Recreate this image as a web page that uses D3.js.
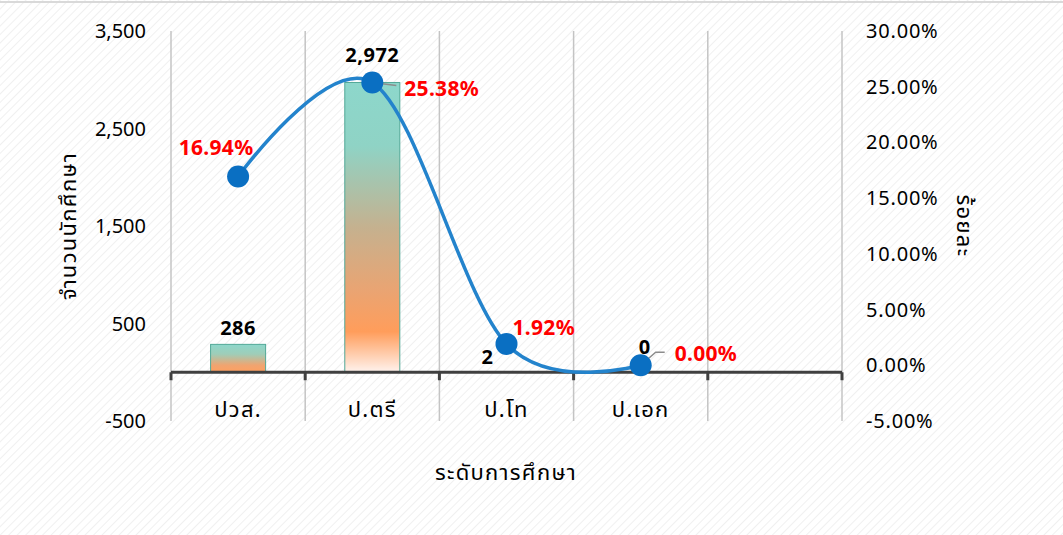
<!DOCTYPE html>
<html>
<head>
<meta charset="utf-8">
<script src="https://cdn.jsdelivr.net/npm/d3@7"></script>
<style>
  body { margin: 0; background: #fff; }
  text { font-family: "Noto Sans", "Noto Sans Thai", sans-serif; }
  .thai { letter-spacing: 1.3px; }
</style>
</head>
<body>
<div id="chart"></div>
<script>
const categories = ["ปวส.", "ป.ตรี", "ป.โท", "ป.เอก", ""];
const students = [286, 2972, 2, 0];
const percents = [16.94, 25.38, 1.92, 0.00];
const studentLabels = ["286", "2,972", "2", "0"];
const leftTicks = [-500, 500, 1500, 2500, 3500];
const rightTicks = [-5, 0, 5, 10, 15, 20, 25, 30];

const width = 1063, height = 535;

const x = d3.scaleBand().domain(categories).range([171, 842]).paddingInner(0);
const yL = d3.scaleLinear().domain([-500, 3500]).range([421, 31]);
const yR = d3.scaleLinear().domain([-5, 30]).range([421, 31]);
const barW = x.bandwidth() * 0.41;
const cx = c => x(c) + x.bandwidth() / 2;

const svg = d3.select("#chart").append("svg")
  .attr("width", width)
  .attr("height", height)
  .attr("viewBox", [0, 0, width, height]);

const defs = svg.append("defs");

const pat = defs.append("pattern")
  .attr("id", "hatch")
  .attr("patternUnits", "userSpaceOnUse")
  .attr("width", 6).attr("height", 6)
  .attr("patternTransform", "rotate(45)");
pat.append("rect").attr("width", 6).attr("height", 6).attr("fill", "#fff");
pat.append("line")
  .attr("x1", 0).attr("y1", 0).attr("x2", 0).attr("y2", 6)
  .attr("stroke", "#f0f0f0").attr("stroke-width", 2);

const grad = defs.append("linearGradient")
  .attr("id", "barGrad")
  .attr("x1", 0).attr("y1", 0).attr("x2", 0).attr("y2", 1);
[[0, "#8dd7cb"], [0.22, "#8fd3c5"], [0.5, "#c5b18f"], [0.72, "#eaa472"], [0.86, "#ff9d5b"], [1, "#fff3ee"]]
  .forEach(([o, c]) => grad.append("stop").attr("offset", o).attr("stop-color", c));

const gradSmall = defs.append("linearGradient")
  .attr("id", "barGradSmall")
  .attr("x1", 0).attr("y1", 0).attr("x2", 0).attr("y2", 1);
[[0, "#8dd7cb"], [0.35, "#9fcdb8"], [0.75, "#f0a470"], [1, "#ffa060"]]
  .forEach(([o, c]) => gradSmall.append("stop").attr("offset", o).attr("stop-color", c));

svg.append("rect")
  .attr("width", width).attr("height", height)
  .attr("fill", "url(#hatch)");
svg.append("line")
  .attr("x1", 0).attr("x2", width).attr("y1", 2).attr("y2", 2)
  .attr("stroke", "#d9d9d9").attr("stroke-width", 2);

// vertical gridlines at category boundaries
const bounds = categories.map(c => x(c)).concat([x.range()[1]]);
svg.append("g")
  .selectAll("line")
  .data(bounds)
  .join("line")
    .attr("x1", d => d).attr("x2", d => d)
    .attr("y1", yL(3500)).attr("y2", yL(-500))
    .attr("stroke", "#c4c4c4").attr("stroke-width", 1.5);

// bars
svg.append("g")
  .selectAll("rect")
  .data(students)
  .join("rect")
    .attr("x", (d, i) => cx(categories[i]) - barW / 2)
    .attr("y", d => yL(d))
    .attr("width", barW)
    .attr("height", d => yL(0) - yL(d))
    .attr("fill", (d, i) => i === 0 ? "url(#barGradSmall)" : "url(#barGrad)")
    .attr("stroke", "#52a897")
    .attr("stroke-width", d => d > 10 ? 1 : 0);

// category axis line and ticks
svg.append("line")
  .attr("x1", x.range()[0]).attr("x2", x.range()[1])
  .attr("y1", yL(0)).attr("y2", yL(0))
  .attr("stroke", "#404040").attr("stroke-width", 3);
svg.append("g")
  .selectAll("line")
  .data(bounds)
  .join("line")
    .attr("x1", d => d).attr("x2", d => d)
    .attr("y1", yL(0)).attr("y2", yL(0) + 8)
    .attr("stroke", "#404040").attr("stroke-width", 3);

// left axis labels
svg.append("g")
  .selectAll("text")
  .data(leftTicks)
  .join("text")
    .attr("x", 146)
    .attr("y", d => yL(d))
    .attr("dy", "0.35em")
    .attr("text-anchor", "end")
    .attr("font-size", 20)
    .text(d => d3.format(",")(d).replace("−", "-"));

// right axis labels
svg.append("g")
  .selectAll("text")
  .data(rightTicks)
  .join("text")
    .attr("x", 866)
    .attr("y", d => yR(d))
    .attr("dy", "0.35em")
    .attr("font-size", 20)
    .attr("letter-spacing", 0.8)
    .text(d => d.toFixed(2).replace("−", "-") + "%");

// category labels
svg.append("g")
  .selectAll("text")
  .data(categories)
  .join("text")
    .attr("class", "thai")
    .attr("x", d => cx(d))
    .attr("y", 417)
    .attr("text-anchor", "middle")
    .attr("font-size", 22)
    .text(d => d);

// axis titles
svg.append("text")
  .attr("class", "thai")
  .attr("x", 506).attr("y", 480)
  .attr("text-anchor", "middle")
  .attr("font-size", 22)
  .text("ระดับการศึกษา");
svg.append("text")
  .attr("class", "thai")
  .attr("transform", "translate(76,226) rotate(-90)")
  .attr("text-anchor", "middle")
  .attr("font-size", 22)
  .text("จำนวนนักศึกษา");
svg.append("text")
  .attr("class", "thai")
  .attr("transform", "translate(957,226) rotate(90)")
  .attr("text-anchor", "middle")
  .attr("font-size", 22)
  .text("ร้อยละ");

// leader lines
const p1 = [cx(categories[1]), yR(percents[1])];
const p3 = [cx(categories[3]), yR(percents[3])];
svg.append("path")
  .attr("d", `M${p1[0]},${p1[1]}L${p1[0] + 24},${p1[1] + 3}`)
  .attr("stroke", "#8c8c8c").attr("stroke-width", 1.5).attr("fill", "none");
svg.append("path")
  .attr("d", `M${p3[0]},${p3[1]}L${p3[0] + 15},${p3[1] - 13}L${p3[0] + 24},${p3[1] - 13}`)
  .attr("stroke", "#8c8c8c").attr("stroke-width", 1.5).attr("fill", "none");

// line series
const line = d3.line()
  .x((d, i) => cx(categories[i]))
  .y(d => yR(d))
  .curve(d3.curveCardinal.tension(0));
svg.append("path")
  .datum(percents)
  .attr("d", line)
  .attr("fill", "none")
  .attr("stroke", "#2383cc")
  .attr("stroke-width", 3.5);
svg.append("g")
  .selectAll("circle")
  .data(percents)
  .join("circle")
    .attr("cx", (d, i) => cx(categories[i]))
    .attr("cy", d => yR(d))
    .attr("r", 11)
    .attr("fill", "#0a6fc2");

// bar value labels
const barLabelPos = [[0, -16], [0, -27], [-19, 13], [4, -18]];
svg.append("g")
  .selectAll("text")
  .data(students)
  .join("text")
    .attr("x", (d, i) => cx(categories[i]) + barLabelPos[i][0])
    .attr("y", (d, i) => (i < 2 ? yL(d) : yR(percents[i])) + barLabelPos[i][1])
    .attr("dy", "0.35em")
    .attr("text-anchor", "middle")
    .attr("font-size", 20)
    .attr("font-weight", "bold")
    .attr("letter-spacing", 0.5)
    .text((d, i) => studentLabels[i]);

// percent labels
const pctLabelPos = [[-22, -29, "middle"], [32, 6, "start"], [6, -16, "start"], [34, -12, "start"]];
svg.append("g")
  .selectAll("text")
  .data(percents)
  .join("text")
    .attr("x", (d, i) => cx(categories[i]) + pctLabelPos[i][0])
    .attr("y", (d, i) => yR(d) + pctLabelPos[i][1])
    .attr("dy", "0.35em")
    .attr("text-anchor", (d, i) => pctLabelPos[i][2])
    .attr("font-size", 21)
    .attr("font-weight", "bold")
    .attr("letter-spacing", 0.3)
    .attr("fill", "#ff0000")
    .text(d => d.toFixed(2) + "%");
</script>
</body>
</html>
